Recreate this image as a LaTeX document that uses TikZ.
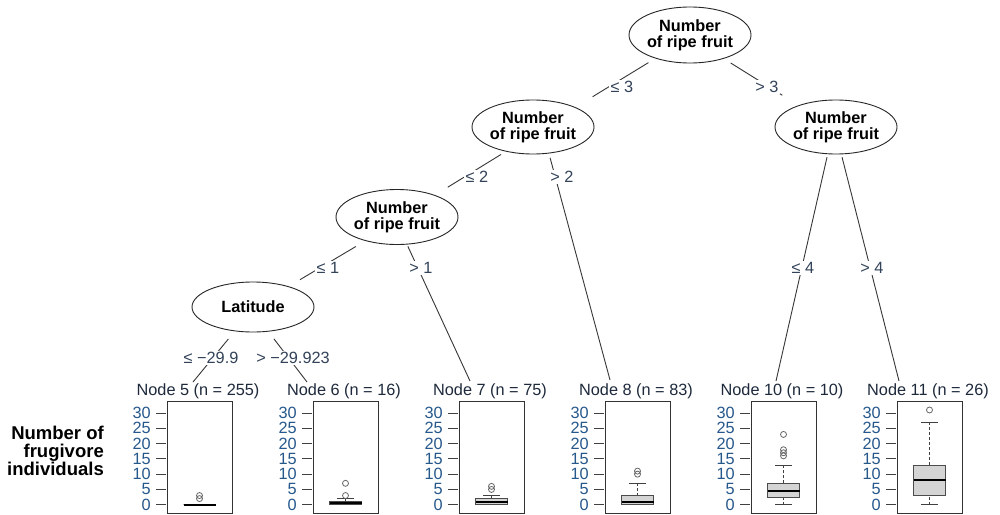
\documentclass[tikz,border=0pt]{standalone}
\usepackage{fontspec}
\setmainfont{Liberation Sans}
\usetikzlibrary{shapes.geometric}
\definecolor{edgecol}{RGB}{55,55,55}
\definecolor{labcol}{RGB}{50,66,88}
\definecolor{tickcol}{RGB}{38,88,140}
\definecolor{titlecol}{RGB}{30,42,60}
\definecolor{boxfill}{RGB}{212,212,212}
\newcommand\drawpanel[3]{%
  \node[panelbox] (#1) at ({#2+32.5},457) {};
  \node[ptitle] (#1-title) at ({#2+31},391) {#3};
  \foreach \v in {0,5,...,30} {
    \draw[tickln] ({#2-11},{504.7-3.055*\v}) -- ({#2-1},{504.7-3.055*\v});
    \node[ticklab] (#1-y\v) at ({#2-16},{504.7-3.055*\v}) {\v};
  }%
}
\newcommand\drawbxp[7]{% #1 L, #2 lo, #3 q1, #4 med, #5 q3, #6 hi, #7 outliers
  \pgfmathsetmacro\bcx{#1+32.5}%
  \draw[whisk] (\bcx,{504.7-3.055*#2}) -- (\bcx,{504.7-3.055*#3});
  \draw[whisk] (\bcx,{504.7-3.055*#5}) -- (\bcx,{504.7-3.055*#6});
  \draw[capln] (\bcx-8.5,{504.7-3.055*#2}) -- (\bcx+8.5,{504.7-3.055*#2});
  \draw[capln] (\bcx-8.5,{504.7-3.055*#6}) -- (\bcx+8.5,{504.7-3.055*#6});
  \filldraw[bxrect] (\bcx-16,{504.7-3.055*#3}) rectangle (\bcx+16,{504.7-3.055*#5});
  \draw[medln] (\bcx-16,{504.7-3.055*#4}) -- (\bcx+16,{504.7-3.055*#4});
  \foreach \o in {#7} {\draw[outl] (\bcx,{504.7-3.055*\o}) circle[radius=3pt];}%
}
\begin{document}
\begin{tikzpicture}[x=1pt,y=-1pt,
  inner/.style={ellipse, draw=black!85, line width=0.9pt, inner sep=0pt,
    font=\fontsize{16.3}{16}\selectfont\bfseries, align=center},
  edge/.style={draw=edgecol, line width=0.9pt},
  elab/.style={fill=white, inner sep=1.5pt, text=labcol, font=\fontsize{16.3}{17}\selectfont},
  panelbox/.style={draw=black!80, line width=0.9pt, minimum width=65pt, minimum height=112pt, inner sep=0pt},
  ptitle/.style={text=titlecol, inner sep=0pt, font=\fontsize{16.3}{17}\selectfont},
  tickln/.style={draw=black!75, line width=0.9pt},
  ticklab/.style={text=tickcol, anchor=east, inner sep=0pt, font=\fontsize{16.3}{17}\selectfont},
  whisk/.style={draw=black!75, line width=0.8pt, dash pattern=on 3pt off 2pt},
  capln/.style={draw=black!75, line width=0.9pt},
  bxrect/.style={fill=boxfill, draw=black!70, line width=0.9pt},
  medln/.style={draw=black, line width=1.8pt},
  outl/.style={draw=black!60, line width=0.8pt}
]
\useasboundingbox (0,0) rectangle (1000,514);
\fill[white] (0,0) rectangle (1000,514);

% inner nodes
\node[inner, minimum width=122pt, minimum height=56pt] (root) at (690,35) {Number\\of ripe fruit};
\node[inner, minimum width=122pt, minimum height=54pt] (n2) at (533,127) {Number\\of ripe fruit};
\node[inner, minimum width=122pt, minimum height=54pt] (n9) at (836,127) {Number\\of ripe fruit};
\node[inner, minimum width=122pt, minimum height=55pt] (n3) at (397,217) {Number\\of ripe fruit};
\node[inner, minimum width=122pt, minimum height=50pt] (lat) at (253,307) {Latitude};

% terminal connection points
\coordinate (t5) at (193,382);
\coordinate (t6) at (307,382);
\coordinate (t7) at (470,381);
\coordinate (t8) at (610,380);
\coordinate (t10) at (776,381);
\coordinate (t11) at (899,381);

% edges
\draw[edge, shorten <=8pt, shorten >=20pt] (root.-146) -- (n2.25);
\draw[edge, shorten <=8pt, shorten >=19pt] (root.-35) -- (n9.150);
\draw[edge, shorten <=5.5pt, shorten >=15pt] (n2.-138) -- (n3.30);
\draw[edge, shorten <=4.5pt] (n2.-59) -- (t8);
\draw[edge, shorten <=11pt, shorten >=13pt] (n3.-143) -- (lat.30);
\draw[edge, shorten <=2pt] (n3.-70) -- (t7);
\draw[edge, shorten <=10pt] (lat.-127) -- (t5);
\draw[edge, shorten <=9pt] (lat.-58) -- (t6);
\draw[edge, shorten <=3pt] (n9.-107) -- (t10);
\draw[edge, shorten <=3pt] (n9.-79) -- (t11);

% edge labels
\node[elab] (c1) at (622,87) {≤ 3};
\node[elab] (c2) at (767,87) {> 3};
\node[elab] (c3) at (477,177) {≤ 2};
\node[elab] (c4) at (562,177) {> 2};
\node[elab] (c5) at (328,268) {≤ 1};
\node[elab] (c6) at (421,268) {> 1};
\node[elab] (c7) at (803,268) {≤ 4};
\node[elab] (c8) at (872,268) {> 4};
\node[elab] (c9) at (211,358) {≤ −29.9};
\node[elab] (c10) at (293,358) {> −29.923};

% boxplots
\drawbxp{167}{0}{0}{0}{0}{0}{2,3}
\drawbxp{313}{0}{0}{0.5}{1}{2}{3,7}
\drawbxp{459}{0}{0}{1}{2}{3}{5,6}
\drawbxp{605}{0}{0}{1}{3}{7}{10,11}
\drawbxp{751}{0}{2.5}{4.5}{7}{13}{16,17,18,23}
\drawbxp{897}{0}{3}{8}{13}{27}{31}

% panels
\drawpanel{p5}{167}{Node 5 (n = 255)}
\drawpanel{p6}{313}{Node 6 (n = 16)}
\drawpanel{p7}{459}{Node 7 (n = 75)}
\drawpanel{p8}{605}{Node 8 (n = 83)}
\drawpanel{p10}{751}{Node 10 (n = 10)}
\drawpanel{p11}{897}{Node 11 (n = 26)}

% y-axis label
\node[anchor=east, align=right, inner sep=0pt, font=\fontsize{18.5}{18.3}\selectfont\bfseries] (ylab) at (104,451) {Number of\\frugivore\\individuals};
\end{tikzpicture}
\end{document}
